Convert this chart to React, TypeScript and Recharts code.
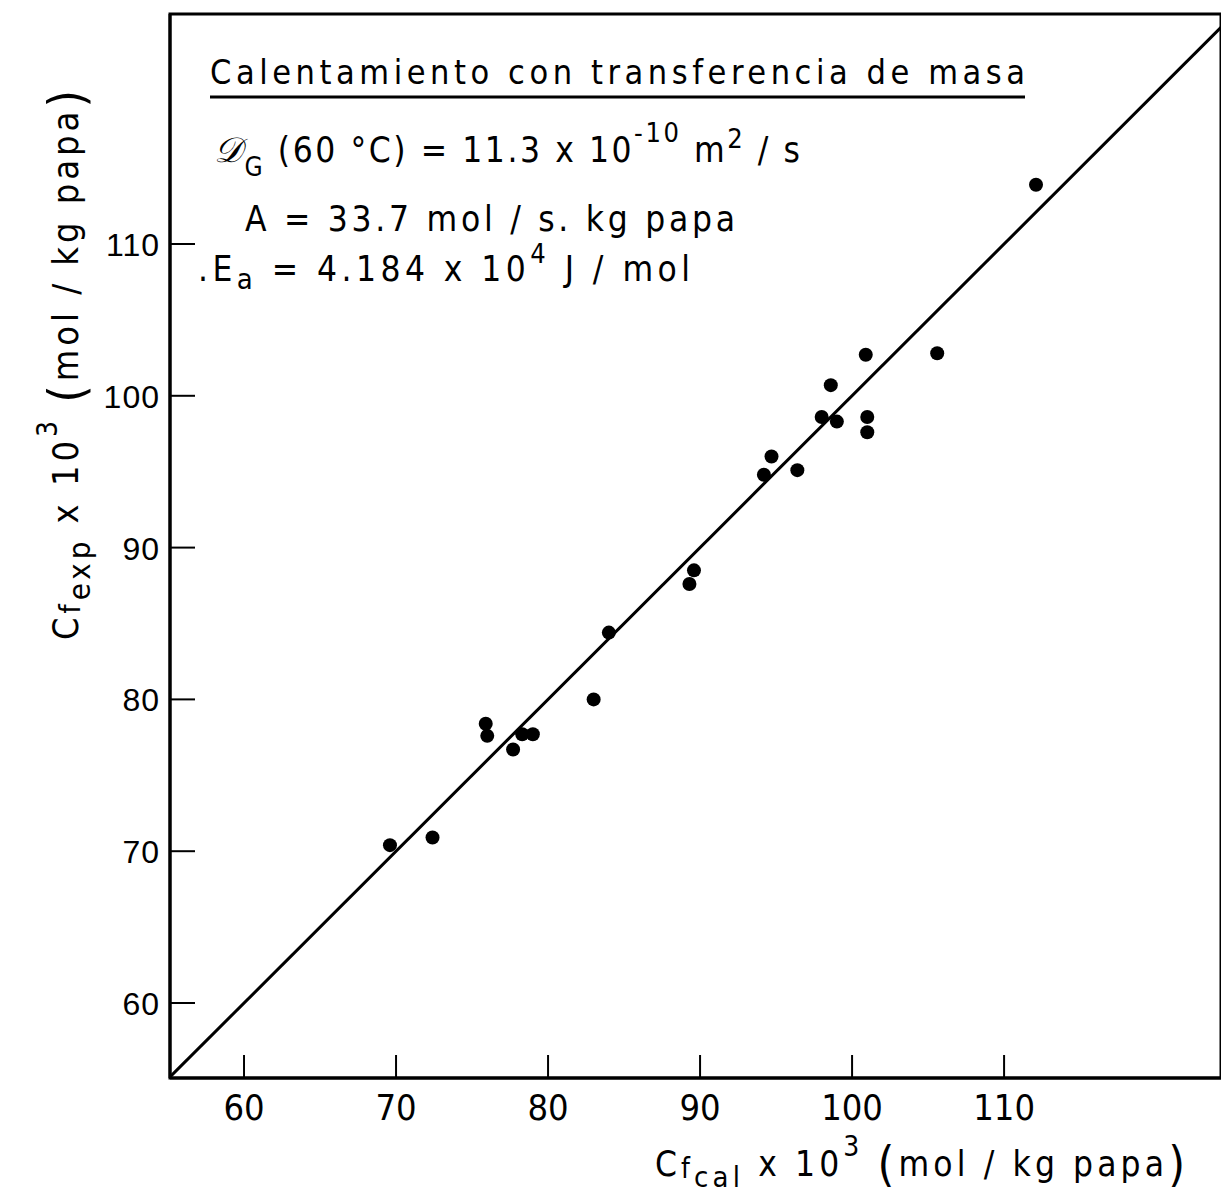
import React from 'react';
import {
  ScatterChart,
  Scatter,
  XAxis,
  YAxis,
  ReferenceLine,
  ReferenceArea,
} from 'recharts';

// Calculated vs. experimental final concentration (x 10^3 mol / kg papa)
const cfCal = [
  69.6, 72.4, 75.9, 76.0, 77.7, 78.3, 79.0, 83.0, 84.0, 89.3, 89.6,
  94.2, 94.7, 96.4, 98.0, 99.0, 98.6, 100.9, 101.0, 101.0, 105.6, 112.1,
];
const cfExp = [
  70.4, 70.9, 78.4, 77.6, 76.7, 77.7, 77.7, 80.0, 84.4, 87.6, 88.5,
  94.8, 96.0, 95.1, 98.6, 98.3, 100.7, 102.7, 98.6, 97.6, 102.8, 113.9,
];
const xTicks = [60, 70, 80, 90, 100, 110];
const yTicks = [60, 70, 80, 90, 100, 110];
const xDomain: [number, number] = [55.13, 124.27];
const yDomain: [number, number] = [55.06, 125.15];

const points = cfCal.map((x, i) => ({ x, y: cfExp[i] }));

const W = 1221;
const H = 1196;
const narrow = "'DejaVu Sans Condensed', 'Liberation Sans Narrow', 'DejaVu Sans', sans-serif";

const XTick = (props: any) => {
  const { x, y, payload } = props;
  return (
    <g>
      <line x1={x} x2={x} y1={y} y2={y - 23} stroke="#000" strokeWidth={2} />
      <text
        x={x}
        y={y + 42}
        textAnchor="middle"
        fontFamily={narrow}
        fontSize={36}
        fill="#000"
      >
        {payload.value}
      </text>
    </g>
  );
};

const YTick = (props: any) => {
  const { x, y, payload } = props;
  return (
    <g>
      <line x1={x} x2={x + 25} y1={y} y2={y} stroke="#000" strokeWidth={2} />
      <text
        x={x - 10}
        y={y + 12}
        textAnchor="end"
        fontFamily="'Liberation Sans', Arial, sans-serif"
        fontSize={32}
        letterSpacing={1}
        fill="#000"
      >
        {payload.value}
      </text>
    </g>
  );
};

const Dot = (props: any) => (
  <circle cx={props.cx} cy={props.cy} r={7} fill="#000" />
);

export default function App() {
  return (
    <div style={{ position: 'absolute', left: 0, top: 0, width: W, height: H, background: '#fff' }}>
      <ScatterChart
        width={W}
        height={H}
        margin={{ top: 14, right: 0, bottom: 0, left: 0 }}
      >
        <XAxis
          type="number"
          dataKey="x"
          domain={xDomain}
          ticks={xTicks}
          allowDataOverflow
          height={118}
          tickSize={0}
          tickMargin={0}
          tickLine={false}
          axisLine={{ stroke: '#000', strokeWidth: 3 }}
          tick={<XTick />}
        />
        <YAxis
          type="number"
          dataKey="y"
          domain={yDomain}
          ticks={yTicks}
          allowDataOverflow
          width={170}
          tickSize={0}
          tickMargin={0}
          tickLine={false}
          axisLine={{ stroke: '#000', strokeWidth: 3 }}
          tick={<YTick />}
        />
        <ReferenceArea
          x1={xDomain[0]}
          x2={xDomain[1]}
          y1={yDomain[0]}
          y2={yDomain[1]}
          fill="none"
          stroke="#000"
          strokeWidth={3}
          fillOpacity={0}
        />
        <ReferenceLine
          segment={[
            { x: xDomain[0], y: xDomain[0] },
            { x: xDomain[1], y: xDomain[1] },
          ]}
          stroke="#000"
          strokeWidth={3}
          ifOverflow="hidden"
        />
        <Scatter data={points} shape={<Dot />} isAnimationActive={false} />
      </ScatterChart>

      <svg
        width={W}
        height={H}
        style={{ position: 'absolute', left: 0, top: 0, pointerEvents: 'none' }}
      >
        <g fontFamily={narrow} fill="#000">
          <text x={210} y={84} fontSize={34} textLength={815} lengthAdjust="spacing">
            Calentamiento con transferencia de masa
          </text>
          <line x1={210} x2={1025} y1={97} y2={97} stroke="#000" strokeWidth={3} />

          <text x={214} y={162} fontSize={35} textLength={586} lengthAdjust="spacing">
            <tspan fontFamily="'DejaVu Serif', serif" fontStyle="italic">𝒟</tspan>
            <tspan fontSize={26} dy={14}>G</tspan>
            <tspan dy={-14}> (60 °C) = 11.3  x  10</tspan>
            <tspan fontSize={27} dy={-20}>-10</tspan>
            <tspan dy={20}>  m</tspan>
            <tspan fontSize={27} dy={-14}>2</tspan>
            <tspan dy={14}> / s</tspan>
          </text>

          <text x={245} y={231} fontSize={35} textLength={490} lengthAdjust="spacing">
            A  =  33.7  mol / s.  kg  papa
          </text>

          <text x={198} y={281} fontSize={35} textLength={492} lengthAdjust="spacing">
            .E
            <tspan fontSize={29} dy={8}>a</tspan>
            <tspan dy={-8}>  =  4.184  x  10</tspan>
            <tspan fontSize={27} dy={-18}>4</tspan>
            <tspan dy={18}>  J / mol</tspan>
          </text>

          {/* x axis title */}
          <text x={655} y={1176} fontSize={35} textLength={530} lengthAdjust="spacing">
            C
            <tspan fontSize={28} dy={2}>f</tspan>
            <tspan fontSize={29} dy={9}>cal</tspan>
            <tspan dy={-11}>  x  10</tspan>
            <tspan fontSize={28} dy={-20}>3</tspan>
            <tspan dy={20}> </tspan>
            <tspan fontSize={48} dy={5}>(</tspan>
            <tspan dy={-5}>mol / kg  papa</tspan>
            <tspan fontSize={48} dy={5}>)</tspan>
          </text>

          {/* y axis title */}
          <text
            transform="translate(78 640) rotate(-90)"
            fontSize={36}
            textLength={550}
            lengthAdjust="spacing"
          >
            C
            <tspan fontSize={29} dy={2}>f</tspan>
            <tspan fontSize={31} dy={10}>exp</tspan>
            <tspan dy={-12}>  x  10</tspan>
            <tspan fontSize={28} dy={-21}>3</tspan>
            <tspan dy={21}> </tspan>
            <tspan fontSize={50} dy={6}>(</tspan>
            <tspan dy={-6}>mol / kg  papa</tspan>
            <tspan fontSize={50} dy={6}>)</tspan>
          </text>
        </g>
      </svg>
    </div>
  );
}
